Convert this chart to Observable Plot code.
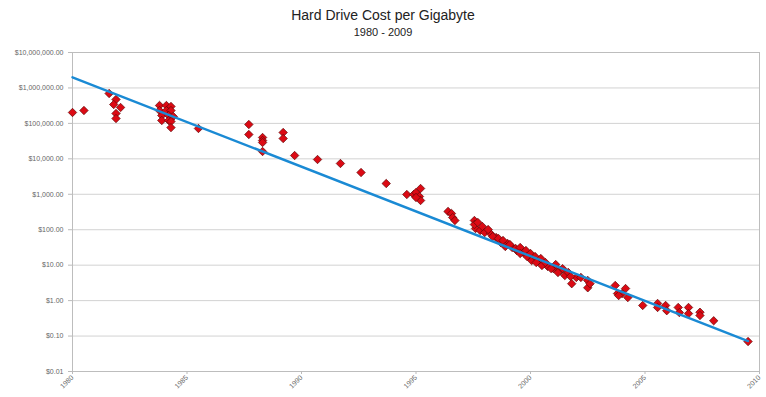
<!DOCTYPE html>
<html>
<head>
<meta charset="utf-8">
<script src="https://cdn.jsdelivr.net/npm/d3@7"></script>
<script src="https://cdn.jsdelivr.net/npm/@observablehq/plot@0.6"></script>
<style>
  body { margin: 0; background: #fff; font-family: "Liberation Sans", Arial, sans-serif; }
  #wrap { position: relative; width: 766px; height: 397px; }
  #title { position: absolute; left: 0; top: 7px; width: 766px; text-align: center; font-size: 14px; color: #222; }
  #subtitle { position: absolute; left: 0; top: 26px; width: 766px; text-align: center; font-size: 11px; color: #222; }
  #chart { position: absolute; left: 0; top: 0; }
</style>
</head>
<body>
<div id="wrap">
  <div id="chart"></div>
  <div id="title">Hard Drive Cost per Gigabyte</div>
  <div id="subtitle">1980 - 2009</div>
</div>
<script>
const years = [
  1980.0, 1980.5, 1981.6, 1981.9, 1981.8, 1982.1, 1981.9, 1981.9,
  1983.8, 1984.1, 1984.3, 1983.8, 1984.1, 1984.3, 1983.9, 1984.2, 1984.4, 1983.9, 1984.2, 1984.3, 1984.3,
  1985.5, 1987.7, 1987.7, 1988.3, 1988.3, 1988.3, 1988.3, 1989.2, 1989.2, 1989.7,
  1990.7, 1991.7, 1992.6, 1993.7,
  1994.6, 1994.9, 1995.0, 1995.2, 1995.15, 1995.2, 1995.0,
  1996.4, 1996.55, 1996.6, 1996.7,
  1997.55, 1997.6, 1997.55, 1997.8, 1998.0, 1998.25, 1998.5, 1998.7, 1999.0, 1999.2, 1999.4, 1999.7, 1999.9,
  2000.1, 2000.35, 2000.6, 2000.75, 2001.0, 2001.3, 2001.5, 2001.8, 2002.0, 2002.2, 2002.5, 2002.5, 2002.6,
  1997.7, 1997.9, 1998.15, 1998.35, 1998.6, 1998.8, 1998.9, 1999.1, 1999.35, 1999.55, 1999.55, 1999.8, 1999.85,
  2000.0, 2000.05, 2000.2, 2000.25, 2000.45, 2000.5, 2000.65, 2000.9, 2001.1, 2001.2, 2001.4, 2001.65, 2001.75,
  2003.7, 2003.8, 2004.0, 2004.15, 2004.25, 2003.85,
  2004.9, 2005.55, 2005.55, 2005.9, 2005.95, 2006.45, 2006.5, 2006.9, 2006.9, 2007.4, 2007.4, 2008.0, 2009.5
];
const costs = [
  203000, 231000, 697000, 472000, 341000, 281000, 190000, 137000,
  320000, 320000, 300000, 230000, 230000, 230000, 167000, 167000, 156000, 121000, 121000, 113000, 76000,
  71800, 93000, 48500, 40000, 32900, 28900, 16100, 55300, 37400, 12400,
  9570, 7380, 4110, 2010,
  985, 985, 1120, 1455, 865, 667, 811,
  327, 286, 221, 182,
  182, 108, 140, 95, 83, 78, 60, 43.5, 40.8, 31.5, 25.9, 22.7, 18.7,
  15.4, 13.5, 11.1, 9.2, 8.0, 7.1, 5.1, 3.0, 4.5, 4.5, 3.7, 2.3, 3.0,
  160, 123, 101, 64, 56.5, 49.5, 33.6, 38.2, 29.5, 31.5, 21.3, 25.9, 17.5,
  21.3, 13.5, 17.5, 11.9, 15.4, 9.8, 11.9, 8.0, 10.4, 6.2, 8.0, 6.2, 4.8,
  2.67, 1.58, 1.58, 2.19, 1.22, 1.39,
  0.73, 0.83, 0.64, 0.73, 0.52, 0.64, 0.46, 0.64, 0.43, 0.47, 0.38, 0.27, 0.07
];
const trendYears = [1980, 2009.5];
const trendCosts = [2000000, 0.072];
const yTicks = [0.01, 0.1, 1, 10, 100, 1000, 10000, 100000, 1000000, 10000000];
const xTicks = [1980, 1985, 1990, 1995, 2000, 2005, 2010];

const points = years.map((y, i) => ({year: y, cost: costs[i]}));
const trend = trendYears.map((y, i) => ({year: y, cost: trendCosts[i]}));
const fmt = d3.format(",.2f");

const chart = Plot.plot({
  width: 766,
  height: 397,
  marginLeft: 72,
  marginRight: 7,
  marginTop: 52,
  marginBottom: 26,
  style: {fontFamily: "Liberation Sans, Arial, sans-serif", fontSize: "7px", color: "#666", background: "transparent"},
  x: {domain: [1980, 2010], ticks: xTicks, tickFormat: d => String(d), tickRotate: -45, tickSize: 3, label: null},
  y: {type: "log", domain: [0.01, 10000000], ticks: yTicks, tickFormat: d => "$" + fmt(d), tickSize: 4, label: null},
  marks: [
    Plot.ruleY(yTicks, {stroke: "#d2d2d2", strokeWidth: 1}),
    Plot.frame({stroke: "#bdbdbd", strokeWidth: 1}),
    Plot.axisX({ticks: xTicks, tickFormat: d => String(d), tickRotate: -45, tickSize: 3, tickPadding: 2, stroke: "#bbb", fill: "#666", fontSize: 7, label: null}),
    Plot.axisY({ticks: yTicks, tickFormat: d => "$" + fmt(d), tickSize: 4, stroke: "#bbb", fill: "#666", fontSize: 7, label: null}),
    Plot.dot(points, {x: "year", y: "cost", symbol: "diamond2", r: 3.8, fill: "#dc0a14", stroke: "#600808", strokeWidth: 0.7}),
    Plot.line(trend, {x: "year", y: "cost", stroke: "#1a8ad4", strokeWidth: 2.4})
  ]
});
document.getElementById("chart").appendChild(chart);
</script>
</body>
</html>
